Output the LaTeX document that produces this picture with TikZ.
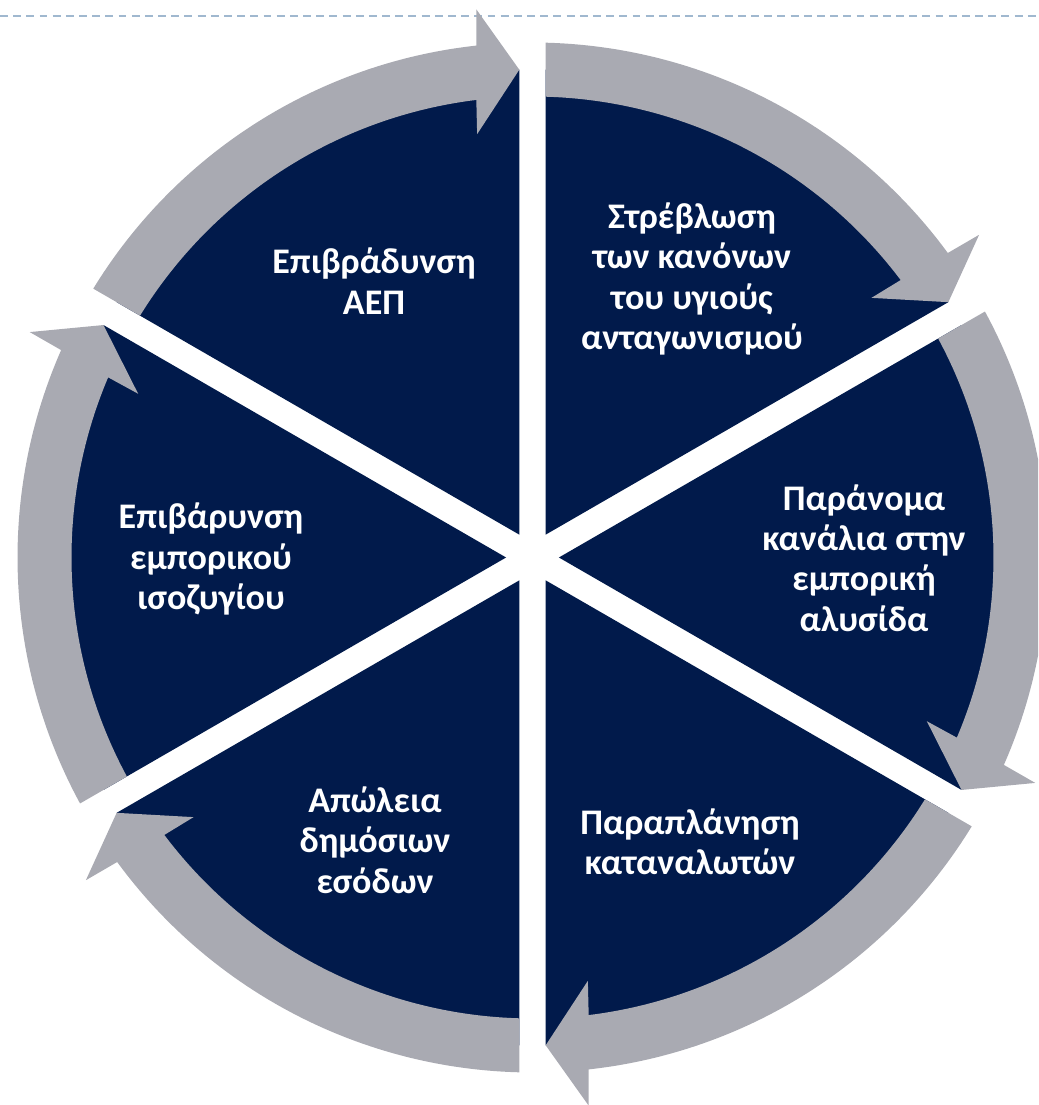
\documentclass[tikz,border=0pt]{standalone}
\usepackage{fontspec}
\setmainfont{Carlito}
\definecolor{CycleNavy}{HTML}{011A4B}
\definecolor{RingGray}{HTML}{A9AAB2}
\definecolor{DashBlue}{HTML}{A0B8CF}
\tikzset{
  wedge/.style={fill=CycleNavy},
  ringarrow/.style={fill=RingGray},
  stage/.style={text=white, align=center, inner sep=0pt, font=\fontsize{20.5}{23}\selectfont\bfseries},
  topline/.style={draw=DashBlue, line width=1.1pt, dash pattern=on 4.5pt off 3pt}
}

\begin{document}
\begin{tikzpicture}[x=0.02cm, y=0.02cm]
\path[use as bounding box, clip] (-532.5,-547.5) rectangle (505.5,557.5);
\draw[topline] (-532.5,541.5) -- (505.5,541.5);
% pie segments
\foreach \a in {90,30,-30,-90,-150,150}{
  \fill[wedge] (\a-30:26.4) -- (\a-1.55:488) arc[start angle=\a-1.55, end angle=\a-58.45, radius=488] -- cycle;
}
% arrows round the ring
\foreach \a in {90,30,-30,-90,-150,150}{
  \fill[ringarrow] (\a-1.47:515) arc[start angle=\a-1.47, end angle=\a-53.75, radius=515]
    -- (\a-54.15:551) -- (\a-58.45:488) -- (\a-52.55:427) -- (\a-53:461)
    arc[start angle=\a-53, end angle=\a-1.64, radius=461] -- cycle;
}
\node[stage] (gdp) at (-158.5,276.5) {Επιβράδυνση\\ΑΕΠ};
\node[stage] (competition) at (159.5,278.5) {Στρέβλωση\\των κανόνων\\του υγιούς\\ανταγωνισμού};
\node[stage] (channels) at (331.5,-0.5) {Παράνομα\\κανάλια στην\\εμπορική\\αλυσίδα};
\node[stage] (balance) at (-321.5,-1.5) {Επιβάρυνση\\εμπορικού\\ισοζυγίου};
\node[stage] (revenue) at (-157.5,-282.5) {Απώλεια\\δημόσιων\\εσόδων};
\node[stage] (consumers) at (157.5,-284.5) {Παραπλάνηση\\καταναλωτών};
\end{tikzpicture}
\end{document}
